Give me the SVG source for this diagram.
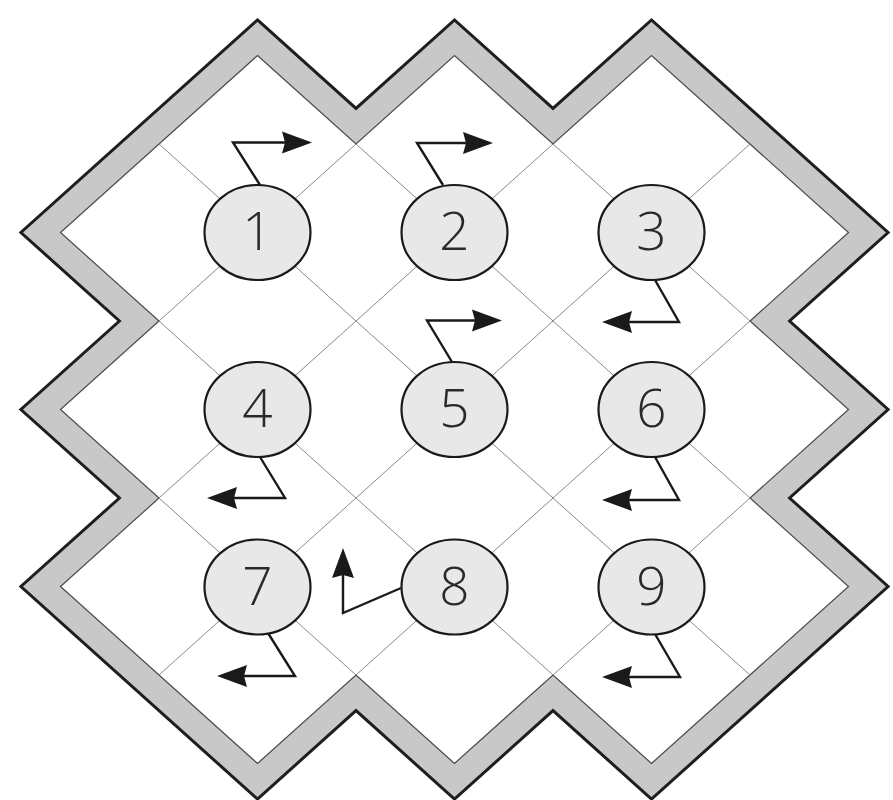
<svg xmlns="http://www.w3.org/2000/svg" width="893" height="800" viewBox="0 0 893 800">
<style>
.outer{fill:#c8c8c8;stroke:#1e1e1e;stroke-width:3;stroke-linejoin:miter}
.inner{fill:#ffffff;stroke:#4a4a4a;stroke-width:1.2;stroke-linejoin:miter}
.grid{fill:none;stroke:#8a8a8a;stroke-width:1}
.node ellipse{fill:#e8e8e8;stroke:#1a1a1a;stroke-width:2.2}
.node text{font-family:"Open Sans","Noto Sans","Liberation Sans",sans-serif;font-weight:300;font-size:53px;fill:#2a2a2a;text-anchor:middle}
.arrow{fill:none;stroke:#1a1a1a;stroke-width:2.4;stroke-linejoin:miter;stroke-linecap:butt}
</style>
<defs>
<marker id="ah" markerUnits="userSpaceOnUse" viewBox="-1 -13 33 26" markerWidth="33" markerHeight="26" refX="3" refY="0" orient="auto">
<path d="M30,0 L0,-11 L3,0 L0,11 Z" fill="#1a1a1a"/>
</marker>
</defs>
<g id="frame">
<polygon class="outer" points="257.5,19.9 356,108.4 454.5,19.9 553,108.4 651.5,19.9 888.1,232.5 789.6,321 888.1,409.5 789.6,498 888.1,586.5 651.5,799.1 553,710.6 454.5,799.1 356,710.6 257.5,799.1 20.9,586.5 119.4,498 20.9,409.5 119.4,321 20.9,232.5"/>
<polygon class="inner" points="257.5,55.5 356,144 454.5,55.5 553,144 651.5,55.5 848.5,232.5 750,321 848.5,409.5 750,498 848.5,586.5 651.5,763.5 553,675 454.5,763.5 356,675 257.5,763.5 60.5,586.5 159,498 60.5,409.5 159,321 60.5,232.5"/>
</g>
<g id="grid">
<path class="grid" d="M159,144 L750,675 M356,144 L750,498 M553,144 L750,321 M159,321 L553,675 M159,498 L356,675 M750,144 L159,675 M553,144 L159,498 M356,144 L159,321 M750,321 L356,675 M750,498 L553,675"/>
</g>
<g id="connectors">
<path class="arrow" marker-end="url(#ah)" d="M260,185 L233,142.5 L285,142.5"/>
<path class="arrow" marker-end="url(#ah)" d="M443,185 L417,143 L466,143"/>
<path class="arrow" marker-end="url(#ah)" d="M655,280 L679,322 L629,322"/>
<path class="arrow" marker-end="url(#ah)" d="M260,457 L285,498 L234,498"/>
<path class="arrow" marker-end="url(#ah)" d="M452,362 L427,320.5 L475,320.5"/>
<path class="arrow" marker-end="url(#ah)" d="M655,457 L679,500 L629,500"/>
<path class="arrow" marker-end="url(#ah)" d="M268,633 L295,676 L244,676"/>
<path class="arrow" marker-end="url(#ah)" d="M401,588 L343,613 L343,575"/>
<path class="arrow" marker-end="url(#ah)" d="M655,634 L680,677 L629,677"/>
</g>
<g id="node1" class="node"><ellipse cx="257.5" cy="232.5" rx="53" ry="47.5"/><text x="257.5" y="250">1</text></g>
<g id="node2" class="node"><ellipse cx="454.5" cy="232.5" rx="53" ry="47.5"/><text x="454.5" y="250">2</text></g>
<g id="node3" class="node"><ellipse cx="651.5" cy="232.5" rx="53" ry="47.5"/><text x="651.5" y="250">3</text></g>
<g id="node4" class="node"><ellipse cx="257.5" cy="409.5" rx="53" ry="47.5"/><text x="257.5" y="427">4</text></g>
<g id="node5" class="node"><ellipse cx="454.5" cy="409.5" rx="53" ry="47.5"/><text x="454.5" y="427">5</text></g>
<g id="node6" class="node"><ellipse cx="651.5" cy="409.5" rx="53" ry="47.5"/><text x="651.5" y="427">6</text></g>
<g id="node7" class="node"><ellipse cx="257.5" cy="587" rx="53" ry="47.5"/><text x="257.5" y="605">7</text></g>
<g id="node8" class="node"><ellipse cx="454.5" cy="587" rx="53" ry="47.5"/><text x="454.5" y="605">8</text></g>
<g id="node9" class="node"><ellipse cx="651.5" cy="587" rx="53" ry="47.5"/><text x="651.5" y="605">9</text></g>
</svg>
